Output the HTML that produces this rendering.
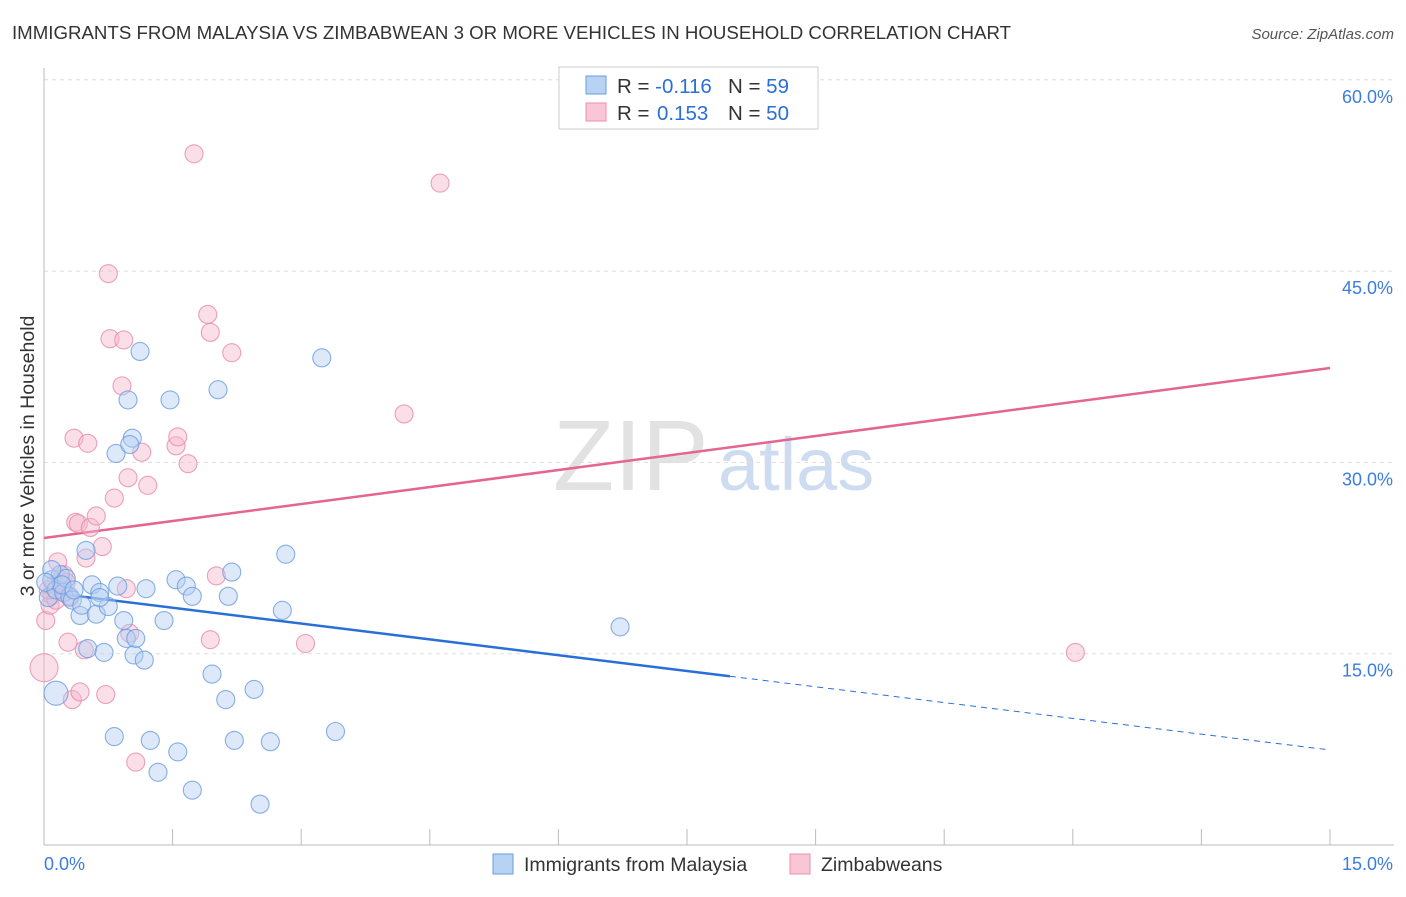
<!DOCTYPE html>
<html><head><meta charset="utf-8"><style>
body{margin:0;background:#fff;font-family:"Liberation Sans",sans-serif}
svg text{font-family:"Liberation Sans",sans-serif}
</style></head><body>
<svg id="chart" width="1406" height="892" xmlns="http://www.w3.org/2000/svg">
<text x="12" y="39" font-size="18" fill="#333" textLength="999" lengthAdjust="spacingAndGlyphs">IMMIGRANTS FROM MALAYSIA VS ZIMBABWEAN 3 OR MORE VEHICLES IN HOUSEHOLD CORRELATION CHART</text>
<text x="1394" y="39" font-size="15" fill="#555" text-anchor="end" font-style="italic">Source: ZipAtlas.com</text>
<text x="553" y="490" font-size="100" fill="#e2e2e2" font-family="Liberation Serif">ZIP</text>
<text x="718" y="490" font-size="74" fill="#cddcf0">atlas</text>
<text transform="translate(34,456) rotate(-90)" font-size="19.5" fill="#333" text-anchor="middle">3 or more Vehicles in Household</text>
<g id="grid"></g><g id="axes"></g><g id="trends"></g><g id="pts"></g>
<g>
<rect x="559" y="67" width="259" height="62" fill="#fff" stroke="#ccc"/>
<rect x="586" y="76" width="20" height="18" fill="#b8d2f4" stroke="#6b9be0"/>
<rect x="586" y="103" width="20" height="18" fill="#f9c6d6" stroke="#ec8fae"/>
<text x="617" y="93" font-size="20.5" fill="#333">R = <tspan fill="#2a6fd6">-0.116</tspan><tspan x="728">N = </tspan><tspan fill="#2a6fd6">59</tspan></text>
<text x="617" y="120" font-size="20.5" fill="#333">R = <tspan fill="#2a6fd6" x="657">0.153</tspan><tspan x="728">N = </tspan><tspan fill="#2a6fd6">50</tspan></text>
</g>
<g>
<rect x="493" y="854" width="20" height="20" fill="#b8d2f4" stroke="#6b9be0"/>
<text x="524" y="871" font-size="19.5" fill="#333">Immigrants from Malaysia</text>
<rect x="790" y="854" width="20" height="20" fill="#f9c6d6" stroke="#ec8fae"/>
<text x="821" y="871" font-size="19.5" fill="#333">Zimbabweans</text>
</g>
</svg>
<script>
const yTicks=[15,30,45,60];
const yTickLabels=["15.0%","30.0%","45.0%","60.0%"];
const xTicks=[0,1.5,3,4.5,6,7.5,9,10.5,12,13.5,15];
const xEndLabels=["0.0%","15.0%"];
const blueX=[0.14,0.05,0.09,0.14,0.19,0.23,0.26,0.30,0.33,0.42,0.44,0.49,0.51,0.56,0.61,0.65,0.70,0.75,0.82,0.86,0.93,0.96,0.98,1.03,1.05,1.07,1.12,1.19,1.17,1.24,1.33,1.40,1.47,1.54,1.56,1.66,1.73,1.73,1.96,2.03,2.12,2.15,2.19,2.22,2.45,2.52,2.64,2.78,2.82,3.24,3.40,6.72,0.84,1.00,0.09,0.21,0.35,0.02,0.65];
const blueY=[11.9,19.4,20.8,20.0,21.2,19.8,20.9,19.5,19.2,18.0,18.8,23.1,15.4,20.4,18.1,19.8,15.1,18.7,8.5,20.3,17.6,16.2,34.9,31.9,14.9,16.2,38.7,20.1,14.5,8.2,5.7,17.6,34.9,20.8,7.3,20.3,4.3,19.5,13.4,35.7,11.4,19.5,21.4,8.2,12.2,3.2,8.1,18.4,22.8,38.2,8.9,17.1,30.7,31.4,21.6,20.4,20.0,20.6,19.4];
const pinkX=[0.0,0.02,0.07,0.09,0.12,0.16,0.19,0.23,0.28,0.30,0.33,0.35,0.37,0.40,0.42,0.47,0.49,0.51,0.54,0.61,0.68,0.72,0.77,0.82,0.91,0.93,0.96,0.98,1.00,1.07,1.14,1.21,1.54,1.56,1.68,1.75,0.75,1.91,1.94,1.94,2.01,2.19,3.05,4.20,4.62,12.03,0.21,0.14,0.26,0.05];
const pinkY=[13.9,17.6,18.8,19.6,20.4,22.2,20.8,21.2,15.9,19.4,11.4,31.9,25.3,25.2,12.0,15.3,22.5,31.5,24.9,25.8,23.4,11.8,39.7,27.2,36.0,39.6,20.1,28.8,16.6,6.5,30.8,28.2,31.3,32.0,29.9,54.2,44.8,41.6,40.2,16.1,21.1,38.6,15.8,33.8,51.9,15.1,20.0,19.2,20.6,20.0];
const blueTrend=[19.84,7.45], blueSolidEnd=8.0;
const pinkTrend=[24.07,37.4];
const X0=44,X1=1330,Y0=845,PXPER=191.3/15;
const sx=v=>X0+(X1-X0)*v/15, sy=v=>Y0-v*PXPER;
const NS="http://www.w3.org/2000/svg";
function mk(tag,attrs,parent){const e=document.createElementNS(NS,tag);for(const k in attrs)e.setAttribute(k,attrs[k]);document.getElementById(parent).appendChild(e);return e;}
yTicks.forEach((t,i)=>{
 const l=mk('line',{x1:X0,x2:1394,y1:sy(t),y2:sy(t),stroke:'#ddd','stroke-dasharray':'4,4'},'grid');
 
 
 const tx=mk('text',{x:1393,y:sy(t)+23,'font-size':18,fill:'#3b7ddd','text-anchor':'end'},'grid');
 tx.textContent=yTickLabels[i];
 
 
});
const ya=mk('line',{x1:X0,x2:X0,y1:68,y2:Y0,stroke:'#bbb'},'axes');


const xa=mk('line',{x1:X0,x2:1394,y1:Y0,y2:Y0,stroke:'#bbb'},'axes');


xTicks.forEach(t=>{
 const l=mk('line',{x1:sx(t),x2:sx(t),y1:Y0-16,y2:Y0,stroke:'#bbb'},'axes');
 
 
});
[[0,'start',xEndLabels[0],44],[15,'end',xEndLabels[1],1393]].forEach(a=>{
 const tx=mk('text',{x:a[3],y:870,'font-size':18,fill:'#3b7ddd','text-anchor':a[1]},'axes');
 tx.textContent=a[2];
 
 
});
function drawPts(xs,ys,fill,stroke,name){
 xs.forEach((x,i)=>{
  const big=(i===0);
  const c=mk('circle',{cx:sx(x),cy:sy(ys[i]),r:big?(name==='pink-point'?14:12):9,fill:fill,stroke:stroke,'stroke-width':1.1,'fill-opacity':0.45,'stroke-opacity':0.8},'pts');
  
  
 });
}
drawPts(pinkX,pinkY,'#f6b8cc','#e98aa9','pink-point');
drawPts(blueX,blueY,'#b3cff2','#6b9be0','blue-point');
const by=x=>blueTrend[0]+(blueTrend[1]-blueTrend[0])*x/15;
const b1=mk('line',{x1:sx(0),y1:sy(by(0)),x2:sx(blueSolidEnd),y2:sy(by(blueSolidEnd)),stroke:'#2a6fd6','stroke-width':2.5},'trends');


const b2=mk('line',{x1:sx(blueSolidEnd),y1:sy(by(blueSolidEnd)),x2:sx(15),y2:sy(by(15)),stroke:'#2a6fd6','stroke-width':1,'stroke-dasharray':'6,5'},'trends');


const p1=mk('line',{x1:sx(0),y1:sy(pinkTrend[0]),x2:sx(15),y2:sy(pinkTrend[1]),stroke:'#e4658f','stroke-width':2.5},'trends');


</script>
</body></html>
